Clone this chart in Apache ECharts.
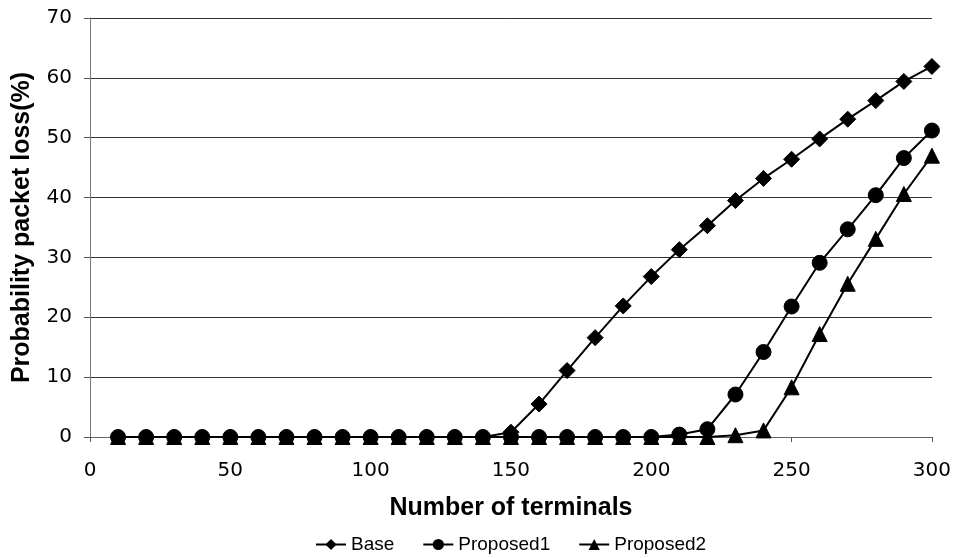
<!DOCTYPE html>
<html>
<head>
<meta charset="utf-8">
<script src="https://cdn.jsdelivr.net/npm/echarts@6/dist/echarts.min.js"></script>
<style>
  html, body { margin: 0; padding: 0; background: #fff; }
  #chart { width: 954px; height: 558px; }
</style>
</head>
<body>
<div id="chart"></div>
<script>
// Number of terminals (x values)
const terminals = [10,20,30,40,50,60,70,80,90,100,110,120,130,140,150,160,170,180,190,200,210,220,230,240,250,260,270,280,290,300];

// Packet loss probability (%) per scheme
const baseLoss = [0,0,0,0,0,0,0,0,0,0,0,0,0,0,0.8,5.5,11.1,16.6,21.9,26.8,31.3,35.3,39.5,43.2,46.4,49.8,53.1,56.2,59.4,61.9];
const proposed1Loss = [0,0,0,0,0,0,0,0,0,0,0,0,0,0,0,0,0,0,0,0,0.4,1.3,7.1,14.2,21.8,29.1,34.7,40.4,46.6,51.2];
const proposed2Loss = [0,0,0,0,0,0,0,0,0,0,0,0,0,0,0,0,0,0,0,0,0,0,0.3,1.1,8.3,17.2,25.6,33.1,40.6,47.0];

const seriesNames = ['Base', 'Proposed1', 'Proposed2'];
const xTicks = { min: 0, max: 300, interval: 50 };
const yTicks = { min: 0, max: 70, interval: 10 };

const pairs = ys => terminals.map((x, i) => [x, ys[i]]);

const lineSeries = (name, ys, symbol, size) => ({
  name,
  type: 'line',
  data: pairs(ys),
  symbol,
  symbolSize: size,
  showSymbol: true,
  lineStyle: { color: '#000', width: 2 },
  itemStyle: { color: '#000', borderColor: '#000' },
  emphasis: { disabled: true },
  animation: false
});

const tickFont = { fontFamily: 'DejaVu Sans', fontSize: 20, color: '#000' };
const titleFont = { fontFamily: 'Liberation Sans', fontWeight: 'bold', fontSize: 25, color: '#000' };

const chart = echarts.init(document.getElementById('chart'), null, { renderer: 'canvas' });
chart.setOption({
  backgroundColor: '#fff',
  animation: false,
  grid: { left: 90, right: 22, top: 18, bottom: 121, containLabel: false },
  xAxis: {
    type: 'value',
    min: xTicks.min, max: xTicks.max, interval: xTicks.interval,
    name: 'Number of terminals',
    nameLocation: 'middle',
    nameGap: 59,
    nameTextStyle: titleFont,
    axisLine: { show: true, lineStyle: { color: '#666', width: 1 } },
    axisTick: { show: true, inside: false, length: 5, lineStyle: { color: '#555' } },
    axisLabel: Object.assign({ margin: 24 }, tickFont),
    splitLine: { show: false }
  },
  yAxis: {
    type: 'value',
    min: yTicks.min, max: yTicks.max, interval: yTicks.interval,
    name: 'Probability packet loss(%)',
    nameLocation: 'middle',
    nameGap: 55,
    nameTextStyle: titleFont,
    axisLine: { show: true, lineStyle: { color: '#777', width: 1 } },
    axisTick: { show: true, inside: false, length: 6, lineStyle: { color: '#555' } },
    axisLabel: Object.assign({ margin: 18 }, tickFont),
    splitLine: { show: true, lineStyle: { color: '#333', width: 1 } }
  },
  legend: {
    top: 535,
    left: 315,
    padding: 0,
    itemWidth: 30,
    itemHeight: 14,
    itemGap: 28,
    textStyle: { fontFamily: 'Liberation Sans', fontSize: 19, color: '#000' },
    data: seriesNames
  },
  series: [
    lineSeries(seriesNames[0], baseLoss, 'diamond', 16),
    lineSeries(seriesNames[1], proposed1Loss, 'circle', 15),
    lineSeries(seriesNames[2], proposed2Loss, 'triangle', 15)
  ]
});
</script>
</body>
</html>
